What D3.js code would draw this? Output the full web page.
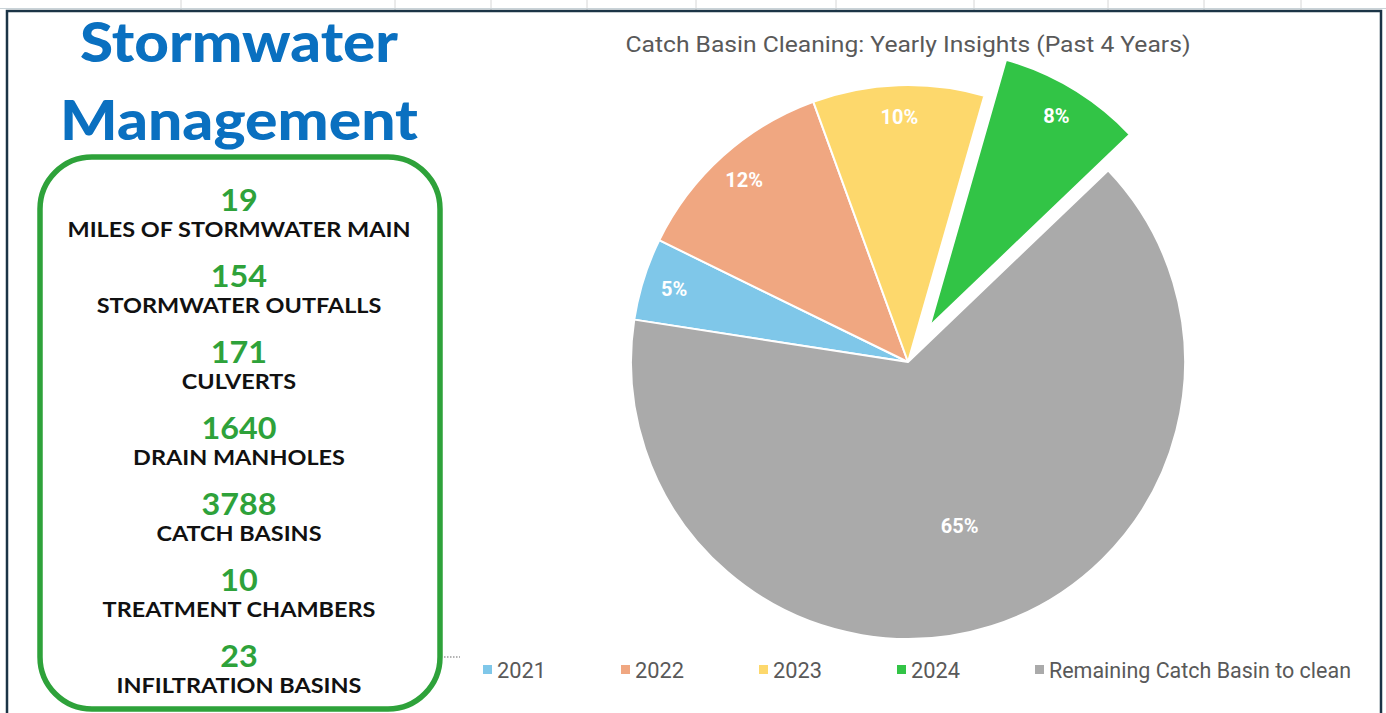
<!DOCTYPE html>
<html>
<head>
<meta charset="utf-8">
<script src="https://cdn.jsdelivr.net/npm/d3@7"></script>
<style>
  html, body { margin: 0; padding: 0; background: #fff; }
  svg { display: block; }
</style>
</head>
<body>
<svg id="chart" width="1386" height="713"></svg>
<script>
// pie data (share of catch basins, %)
const seriesNames = ["2021", "2022", "2023", "2024", "Remaining Catch Basin to clean"];
const seriesShares = [4.8, 12.2, 10.0, 8.4, 64.6];
const seriesColors = ["#7fc7e9", "#f0a781", "#fdd86c", "#32c446", "#aaaaaa"];
const explodedName = "2024";

// left panel figures
const statValues = ["19", "154", "171", "1640", "3788", "10", "23"];
const statLabels = [
    "MILES OF STORMWATER MAIN",
    "STORMWATER OUTFALLS",
    "CULVERTS",
    "DRAIN MANHOLES",
    "CATCH BASINS",
    "TREATMENT CHAMBERS",
    "INFILTRATION BASINS"
];

const W = 1386, H = 713;
const svg = d3.select("#chart");

svg.append("rect").attr("width", W).attr("height", H).attr("fill", "#fff");

// spreadsheet grid lines peeking out above the frame
const gridXs = [181, 395, 491, 587, 696, 836, 974, 1108, 1204, 1301];
svg.selectAll(".grid")
    .data(gridXs)
    .enter()
    .append("line")
    .attr("class", "grid")
    .attr("x1", d => d).attr("x2", d => d)
    .attr("y1", 0).attr("y2", 10)
    .attr("stroke", "#d6d6d6")
    .attr("stroke-width", 1);

svg.append("line")
    .attr("x1", 0).attr("x2", W)
    .attr("y1", 8.5).attr("y2", 8.5)
    .attr("stroke", "#c9d3d8").attr("stroke-width", 1);

// dark frame
svg.append("path")
    .attr("d", `M7,${H} L7,11 L1381,11 L1381,${H}`)
    .attr("fill", "none")
    .attr("stroke", "#1b3446")
    .attr("stroke-width", 2.5);

// squeeze text horizontally to a target width
function fit(sel, target) {
    sel.each(function () {
        const w = this.getComputedTextLength();
        if (w > 0) d3.select(this).attr("textLength", target).attr("lengthAdjust", "spacingAndGlyphs");
    });
}

// ---------- left panel ----------
const panelX = 239;

svg.append("text")
    .attr("x", panelX).attr("y", 62)
    .attr("text-anchor", "middle")
    .style("font-family", "Lato, 'Open Sans', sans-serif")
    .style("font-weight", 900)
    .style("font-size", "56px")
    .attr("fill", "#0a70c0")
    .text("Stormwater")
    .call(fit, 318);

svg.append("text")
    .attr("x", panelX).attr("y", 140)
    .attr("text-anchor", "middle")
    .style("font-family", "Lato, 'Open Sans', sans-serif")
    .style("font-weight", 900)
    .style("font-size", "56px")
    .attr("fill", "#0a70c0")
    .text("Management")
    .call(fit, 358);

svg.append("rect")
    .attr("x", 40).attr("y", 157)
    .attr("width", 400).attr("height", 552)
    .attr("rx", 52).attr("ry", 52)
    .attr("fill", "none")
    .attr("stroke", "#2ea23a")
    .attr("stroke-width", 5.5);

const rowY = d3.scalePoint()
    .domain(d3.range(statValues.length))
    .range([211, 667]);

const numText = svg.selectAll(".stat-num")
    .data(statValues)
    .enter()
    .append("text")
    .attr("class", "stat-num")
    .attr("x", panelX)
    .attr("y", (d, i) => rowY(i))
    .attr("text-anchor", "middle")
    .style("font-family", "Lato, 'Open Sans', sans-serif")
    .style("font-weight", 700)
    .style("font-size", "31px")
    .attr("fill", "#2ea23a")
    .text(d => d);

const labText = svg.selectAll(".stat-label")
    .data(statLabels)
    .enter()
    .append("text")
    .attr("class", "stat-label")
    .attr("x", panelX)
    .attr("y", (d, i) => rowY(i) + 26)
    .attr("text-anchor", "middle")
    .style("font-family", "Lato, 'Open Sans', sans-serif")
    .style("font-weight", 700)
    .style("font-size", "21.5px")
    .attr("fill", "#111")
    .text(d => d);

// squeeze labels uniformly so the longest matches the picture
const firstLab = labText.nodes()[0];
const labK = 343 / firstLab.getComputedTextLength();
labText.each(function () {
    const w = this.getComputedTextLength();
    d3.select(this).attr("textLength", w * labK).attr("lengthAdjust", "spacingAndGlyphs");
});
const numK = 75 / numText.nodes()[3].getComputedTextLength();
numText.each(function () {
    const w = this.getComputedTextLength();
    d3.select(this).attr("textLength", w * numK).attr("lengthAdjust", "spacingAndGlyphs");
});

// small dotted leftover at the box edge
svg.append("line")
    .attr("x1", 444).attr("x2", 460)
    .attr("y1", 657).attr("y2", 657)
    .attr("stroke", "#9a9a9a")
    .attr("stroke-width", 1.5)
    .attr("stroke-dasharray", "1.5,1.5");

// ---------- pie chart ----------
svg.append("text")
    .attr("x", 908).attr("y", 52)
    .attr("text-anchor", "middle")
    .style("font-family", "Roboto, 'Noto Sans', sans-serif")
    .style("font-size", "22px")
    .attr("fill", "#595959")
    .text("Catch Basin Cleaning: Yearly Insights (Past 4 Years)")
    .call(fit, 565);

const cx = 908, cy = 362, radius = 277, explode = 42;
const startAngle = -81.2 * Math.PI / 180;

const pieData = seriesNames.map((name, i) => ({ name, value: seriesShares[i], color: seriesColors[i] }));

const pie = d3.pie()
    .sort(null)
    .value(d => d.value)
    .startAngle(startAngle)
    .endAngle(startAngle + 2 * Math.PI);

const arc = d3.arc().innerRadius(0).outerRadius(radius);
const arcs = pie(pieData);
const total = d3.sum(seriesShares);
const maxShare = d3.max(seriesShares);

const offset = d => {
    if (d.data.name !== explodedName) return [0, 0];
    const mid = (d.startAngle + d.endAngle) / 2;
    return [Math.sin(mid) * explode, -Math.cos(mid) * explode];
};

const pieG = svg.append("g").attr("transform", `translate(${cx},${cy})`);

const slices = pieG.selectAll(".slice")
    .data(arcs)
    .enter()
    .append("g")
    .attr("class", "slice")
    .attr("transform", d => `translate(${offset(d)[0]},${offset(d)[1]})`);

slices.append("path")
    .attr("d", arc)
    .attr("fill", d => d.data.color)
    .attr("stroke", "#fff")
    .attr("stroke-width", 2)
    .attr("stroke-linejoin", "round");

slices.append("text")
    .attr("transform", d => {
        const mid = (d.startAngle + d.endAngle) / 2;
        const rr = radius * (d.data.value === maxShare ? 0.62 : 0.885);
        return `translate(${Math.sin(mid) * rr},${-Math.cos(mid) * rr})`;
    })
    .attr("text-anchor", "middle")
    .attr("dy", "0.35em")
    .style("font-family", "Roboto, 'Noto Sans', sans-serif")
    .style("font-weight", 700)
    .style("font-size", "20px")
    .attr("fill", "#fff")
    .text(d => d3.format(".0f")(d.data.value / total * 100) + "%");

// ---------- legend ----------
const legendY = 670;
const legend = svg.append("g").attr("class", "legend");
const legItems = seriesNames.map((name, i) => {
    const item = legend.append("g");
    item.append("rect")
        .attr("x", 0).attr("y", -5)
        .attr("width", 9).attr("height", 9)
        .attr("fill", seriesColors[i]);
    const t = item.append("text")
        .attr("x", 14).attr("y", 0)
        .attr("dy", "0.35em")
        .style("font-family", "Roboto, 'Noto Sans', sans-serif")
        .style("font-size", "22px")
        .attr("fill", "#595959")
        .text(name);
    return { name, t, item };
});
// narrow the legend font so the texts span as in the picture
const kYear = 49 / legItems[0].t.node().getComputedTextLength();
const kRest = 302 / legItems[legItems.length - 1].t.node().getComputedTextLength();
let lx = 483;
legItems.forEach(({ name, t, item }) => {
    const k = name.length <= 4 ? kYear : kRest;
    const w = t.node().getComputedTextLength() * k;
    t.attr("textLength", w).attr("lengthAdjust", "spacingAndGlyphs");
    item.attr("transform", `translate(${lx},${legendY})`);
    lx += 14 + w + 75;
});
</script>
</body>
</html>
